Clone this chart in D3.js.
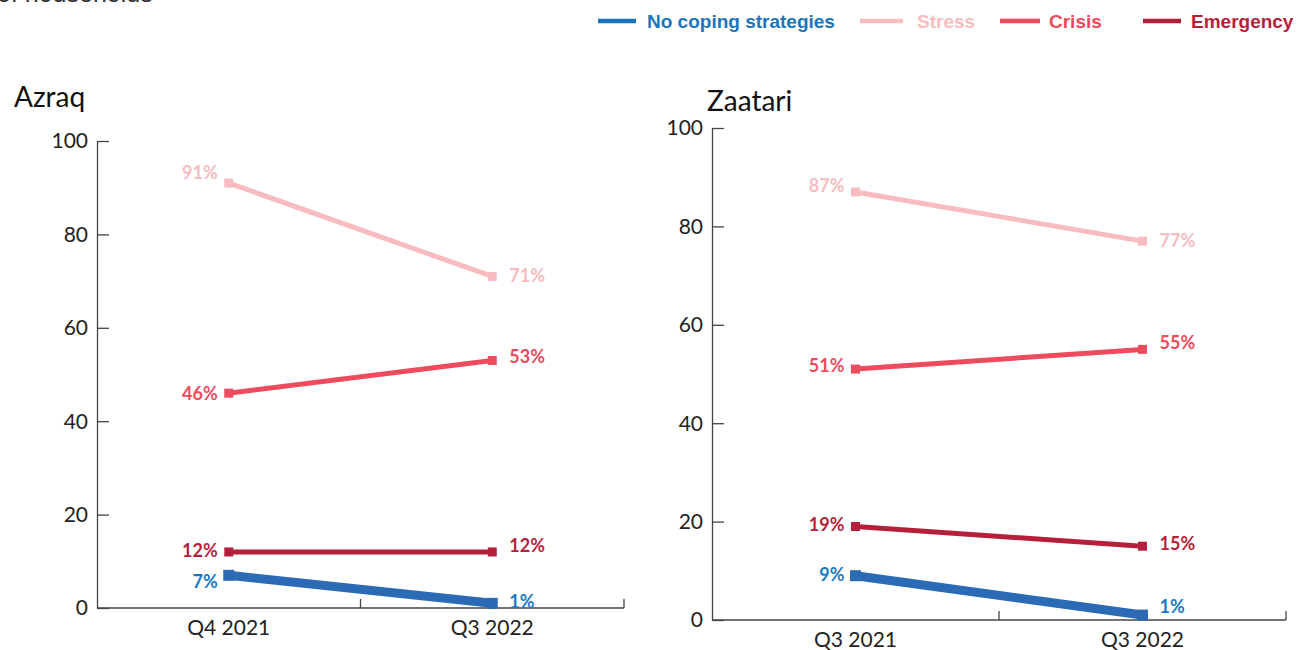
<!DOCTYPE html>
<html>
<head>
<meta charset="utf-8">
<script src="https://cdn.jsdelivr.net/npm/d3@7"></script>
<style>
  html, body { margin: 0; padding: 0; background: #fff; }
  svg { display: block; }
</style>
</head>
<body>
<svg id="chart" width="1297" height="650"></svg>
<script>
// Coping strategy shares (% of households) by camp and survey round
const seriesNames = ["Stress", "Crisis", "Emergency", "No coping strategies"];
const azraqPeriods = ["Q4 2021", "Q3 2022"];
const azraqStress = [91, 71];
const azraqCrisis = [46, 53];
const azraqEmergency = [12, 12];
const azraqNoCoping = [7, 1];
const zaatariPeriods = ["Q3 2021", "Q3 2022"];
const zaatariStress = [87, 77];
const zaatariCrisis = [51, 55];
const zaatariEmergency = [19, 15];
const zaatariNoCoping = [9, 1];
const yTicks = [0, 20, 40, 60, 80, 100];
const legendOrder = ["No coping strategies", "Stress", "Crisis", "Emergency"];

const lineColor = {
  "Stress": "#f8bcc0",
  "Crisis": "#ee4b5e",
  "Emergency": "#b51f3b",
  "No coping strategies": "#2b6ab4"
};
const labelColor = {
  "Stress": "#f8bcc0",
  "Crisis": "#ee4b5e",
  "Emergency": "#b51f3b",
  "No coping strategies": "#1b78c2"
};
const lineWidth = { "Stress": 5, "Crisis": 5, "Emergency": 5, "No coping strategies": 9 };
const markerSize = { "Stress": 9, "Crisis": 9, "Emergency": 9, "No coping strategies": 11 };

const svg = d3.select("#chart");
const axisFont = "Lato, 'Open Sans', sans-serif";
const axisColor = "#222";

// Axis caption running along the top edge
svg.append("text")
  .attr("x", -3).attr("y", 2)
  .attr("font-family", "'Liberation Sans', Arial, sans-serif")
  .attr("font-size", 25)
  .attr("fill", "#333")
  .text("of households");

// Legend
const legendItems = [
  { name: "No coping strategies", x1: 598, x2: 636, tx: 647 },
  { name: "Stress", x1: 860, x2: 903, tx: 917 },
  { name: "Crisis", x1: 1000, x2: 1040, tx: 1049 },
  { name: "Emergency", x1: 1143, x2: 1181, tx: 1191 }
];
const legendText = {
  "No coping strategies": "#1a75bc",
  "Stress": "#f9bcc0",
  "Crisis": "#ee4a5c",
  "Emergency": "#b51f3b"
};
legendOrder.forEach(name => {
  const it = legendItems.find(d => d.name === name);
  const g = svg.append("g");
  g.append("line")
    .attr("x1", it.x1).attr("x2", it.x2)
    .attr("y1", 21).attr("y2", 21)
    .attr("stroke", legendText[name]).attr("stroke-width", 4.5);
  g.append("text")
    .attr("x", it.tx).attr("y", 28)
    .attr("font-family", "'Liberation Sans', Arial, sans-serif")
    .attr("font-weight", "bold")
    .attr("font-size", 19)
    .attr("fill", legendText[name])
    .text(name);
});

function drawPanel(cfg) {
  const { title, periods, values, left, right, top, bottom, titleX, titleY, labelNudge } = cfg;
  const x = d3.scaleBand().domain(periods).range([left, right]);
  const y = d3.scaleLinear().domain([0, 100]).range([bottom, top]);
  const g = svg.append("g");

  g.append("text")
    .attr("x", titleX).attr("y", titleY)
    .attr("font-family", axisFont)
    .attr("font-size", 28)
    .attr("fill", "#111")
    .text(title);

  // y axis: ticks point inward
  const yAxis = g.append("g")
    .attr("transform", `translate(${left},0)`)
    .call(d3.axisRight(y).tickValues(yTicks).tickSize(12).tickSizeOuter(0).tickFormat(""));
  yAxis.selectAll("path, line").attr("stroke", "#444").attr("stroke-width", 1.3);
  yTicks.forEach(t => {
    g.append("text")
      .attr("x", left - 9).attr("y", y(t))
      .attr("dy", "0.35em")
      .attr("text-anchor", "end")
      .attr("font-family", axisFont)
      .attr("font-size", 21)
      .attr("fill", axisColor)
      .text(t);
  });

  // x axis: line with upward ticks at band edges
  g.append("line")
    .attr("x1", left).attr("x2", right)
    .attr("y1", bottom).attr("y2", bottom)
    .attr("stroke", "#444").attr("stroke-width", 1.3);
  periods.forEach(p => {
    const edge = x(p) + x.bandwidth();
    g.append("line")
      .attr("x1", edge).attr("x2", edge)
      .attr("y1", bottom).attr("y2", bottom - 9)
      .attr("stroke", "#444").attr("stroke-width", 1.3);
    g.append("text")
      .attr("x", x(p) + x.bandwidth() / 2).attr("y", bottom + 27)
      .attr("text-anchor", "middle")
      .attr("font-family", axisFont)
      .attr("font-size", 21)
      .attr("fill", axisColor)
      .text(p);
  });

  const cx = p => x(p) + x.bandwidth() / 2;
  const line = d3.line().x(d => cx(d.p)).y(d => y(d.v));

  seriesNames.forEach(name => {
    const pts = periods.map((p, i) => ({ p, v: values[name][i] }));
    g.append("path")
      .datum(pts)
      .attr("d", line)
      .attr("fill", "none")
      .attr("stroke", lineColor[name])
      .attr("stroke-width", lineWidth[name]);
    const s = markerSize[name];
    g.selectAll(null).data(pts).enter().append("rect")
      .attr("x", d => cx(d.p) - s / 2)
      .attr("y", d => y(d.v) - s / 2)
      .attr("width", s).attr("height", s)
      .attr("fill", lineColor[name]);
    pts.forEach((d, i) => {
      const nudge = labelNudge[name][i];
      g.append("text")
        .attr("x", i === 0 ? cx(d.p) - 11 : cx(d.p) + 17)
        .attr("y", y(d.v) + nudge)
        .attr("dy", "0.35em")
        .attr("text-anchor", i === 0 ? "end" : "start")
        .attr("font-family", axisFont)
        .attr("font-weight", "bold")
        .attr("font-size", 18)
        .attr("fill", labelColor[name])
        .text(d.v + "%");
    });
  });
}

drawPanel({
  title: "Azraq",
  periods: azraqPeriods,
  values: {
    "Stress": azraqStress,
    "Crisis": azraqCrisis,
    "Emergency": azraqEmergency,
    "No coping strategies": azraqNoCoping
  },
  left: 97, right: 624, top: 141, bottom: 608,
  titleX: 14, titleY: 107,
  labelNudge: {
    "Stress": [-10, -1],
    "Crisis": [1, -4],
    "Emergency": [-1, -6],
    "No coping strategies": [6, -2]
  }
});

drawPanel({
  title: "Zaatari",
  periods: zaatariPeriods,
  values: {
    "Stress": zaatariStress,
    "Crisis": zaatariCrisis,
    "Emergency": zaatariEmergency,
    "No coping strategies": zaatariNoCoping
  },
  left: 712, right: 1286, top: 128, bottom: 620,
  titleX: 707, titleY: 111,
  labelNudge: {
    "Stress": [-6, 0],
    "Crisis": [-3, -7],
    "Emergency": [-2, -3],
    "No coping strategies": [-1, -8]
  }
});
</script>
</body>
</html>
